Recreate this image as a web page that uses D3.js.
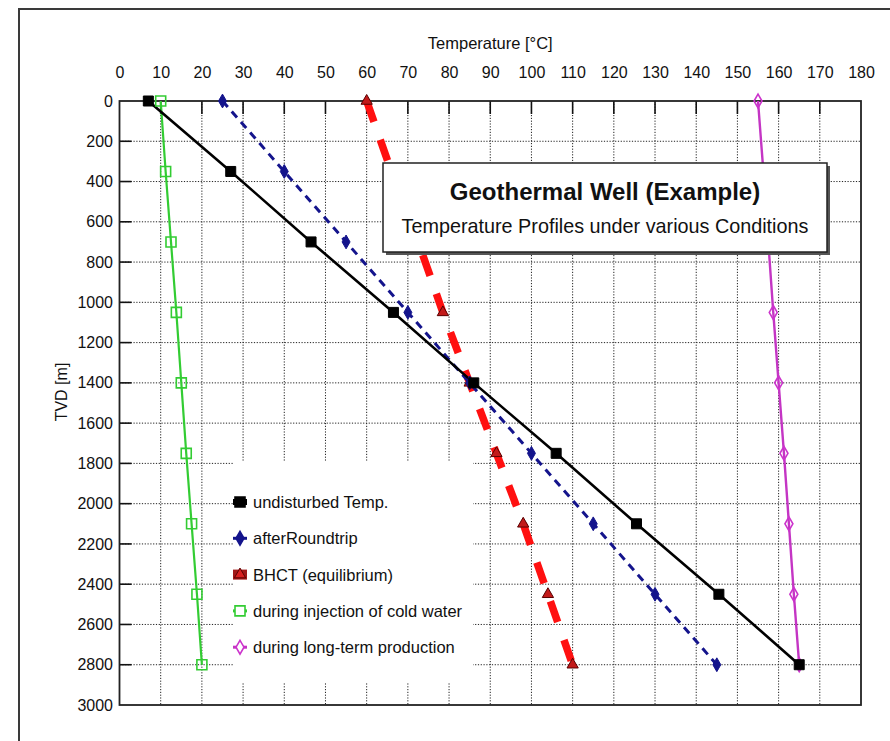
<!DOCTYPE html>
<html>
<head>
<meta charset="utf-8">
<script src="https://cdn.jsdelivr.net/npm/d3@7"></script>
<style>
  html, body { margin: 0; padding: 0; background: #fff; }
  svg { display: block; font-family: "Liberation Sans", Arial, sans-serif; }
</style>
</head>
<body>
<svg id="chart" width="890" height="741"></svg>
<script>
// ---- data ----
const depths = [0, 350, 700, 1050, 1400, 1750, 2100, 2450, 2800];
const undisturbed = [7, 27, 46.5, 66.5, 86, 106, 125.5, 145.5, 165];
const afterRoundtrip = [25, 40, 55, 70, 85, 100, 115, 130, 145];
const bhct = [60, 66, 72.5, 78.5, 85, 91.5, 98, 104, 110];
const injection = [10, 11.2, 12.5, 13.8, 15, 16.2, 17.5, 18.8, 20];
const production = [155, 156.3, 157.5, 158.7, 160, 161.3, 162.5, 163.7, 165];
const xTicks = [0, 10, 20, 30, 40, 50, 60, 70, 80, 90, 100, 110, 120, 130, 140, 150, 160, 170, 180];
const yTicks = [0, 200, 400, 600, 800, 1000, 1200, 1400, 1600, 1800, 2000, 2200, 2400, 2600, 2800, 3000];
const seriesNames = ["undisturbed Temp.", "afterRoundtrip", "BHCT (equilibrium)", "during injection of cold water", "during long-term production"];
const titleText = "Geothermal Well (Example)";
const subtitleText = "Temperature Profiles under various Conditions";
const xTitle = "Temperature [°C]";
const yTitle = "TVD [m]";

// ---- layout ----
const svg = d3.select("#chart");
const L = 119.5, R = 861, T = 101, B = 705;
const x = d3.scaleLinear().domain([0, 180]).range([L, R]);
const y = d3.scaleLinear().domain([0, 3000]).range([T, B]);

// outer frame
svg.append("rect").attr("x", 19).attr("y", 9).attr("width", 900).attr("height", 760)
  .attr("fill", "#fff").attr("stroke", "#3a3a3a").attr("stroke-width", 2);

// grid
const grid = svg.append("g");
xTicks.filter(t => t > 0 && t < 180).forEach(t => {
  grid.append("line").attr("x1", x(t)).attr("x2", x(t)).attr("y1", T).attr("y2", B)
    .attr("stroke", "#222").attr("stroke-width", 1).attr("stroke-dasharray", "1.2,1.6");
  grid.append("line").attr("x1", x(t)).attr("x2", x(t)).attr("y1", T).attr("y2", T + 13)
    .attr("stroke", "#111").attr("stroke-width", 1.6);
});
yTicks.filter(t => t > 0 && t < 3000).forEach(t => {
  grid.append("line").attr("x1", L).attr("x2", R).attr("y1", y(t)).attr("y2", y(t))
    .attr("stroke", "#222").attr("stroke-width", 1).attr("stroke-dasharray", "1.2,1.6");
  grid.append("line").attr("x1", L).attr("x2", L + 12).attr("y1", y(t)).attr("y2", y(t))
    .attr("stroke", "#111").attr("stroke-width", 1.6);
});

// axes (labels via d3 axes)
const xAxis = d3.axisTop(x).tickValues(xTicks).tickFormat(d3.format("d")).tickSize(0).tickPadding(0);
const gx = svg.append("g").attr("transform", `translate(0,${78})`).call(xAxis);
gx.select(".domain").remove();
gx.selectAll("text").attr("font-size", 16).attr("fill", "#111")
  .attr("font-family", "Liberation Sans, Arial, sans-serif").attr("dy", 0);

const yAxis = d3.axisLeft(y).tickValues(yTicks).tickFormat(d3.format("d")).tickSize(0).tickPadding(0);
const gy = svg.append("g").attr("transform", `translate(${113},0)`).call(yAxis);
gy.select(".domain").remove();
gy.selectAll("text").attr("font-size", 16).attr("fill", "#111")
  .attr("font-family", "Liberation Sans, Arial, sans-serif");

// axis titles
svg.append("text").attr("x", (L + R) / 2).attr("y", 49).attr("text-anchor", "middle")
  .attr("font-size", 16.5).attr("fill", "#111").text(xTitle);
svg.append("text").attr("transform", `translate(67,392) rotate(-90)`).attr("text-anchor", "middle")
  .attr("font-size", 16).attr("fill", "#111").text(yTitle);

// legend box (covers gridlines)
const lg = svg.append("g");
lg.append("rect").attr("x", 233).attr("y", 462).attr("width", 240).attr("height", 221).attr("fill", "#fff");

// plot frame
svg.append("rect").attr("x", L).attr("y", T).attr("width", R - L).attr("height", B - T)
  .attr("fill", "none").attr("stroke", "#222").attr("stroke-width", 1.8);

// series
const line = d3.line().x(d => x(d[0])).y(d => y(d[1]));
function pts(vals) { return vals.map((v, i) => [v, depths[i]]); }

const series = [
  { vals: undisturbed, color: "#000", width: 2.6, dash: null, marker: "square", mfill: "#000", mstroke: "#000" },
  { vals: afterRoundtrip, color: "#14148c", width: 3, dash: "8,6", marker: "diamond", mfill: "#14148c", mstroke: "#14148c" },
  { vals: bhct, color: "#ff1010", width: 7.5, dash: "22,19", marker: "triangle", mfill: "#c21a1a", mstroke: "#5a0000" },
  { vals: injection, color: "#33cc33", width: 2.2, dash: null, marker: "square", mfill: "none", mstroke: "#33cc33" },
  { vals: production, color: "#c435c4", width: 2.4, dash: null, marker: "diamond", mfill: "none", mstroke: "#cc33cc" }
];

const symbolFor = {
  square: d3.symbol().type(d3.symbolSquare).size(100),
  diamond: d3.symbol().type(d3.symbolDiamond).size(55),
  triangle: d3.symbol().type(d3.symbolTriangle).size(55)
};

const drawOrder = [4, 3, 2, 1, 0];
drawOrder.forEach(si => {
  const s = series[si];
  const p = svg.append("path").datum(pts(s.vals)).attr("d", line)
    .attr("fill", "none").attr("stroke", s.color).attr("stroke-width", s.width)
    .attr("stroke-linejoin", "round");
  if (s.dash) p.attr("stroke-dasharray", s.dash);
});
drawOrder.forEach(si => {
  const s = series[si];
  svg.append("g").selectAll("path").data(pts(s.vals)).join("path")
    .attr("transform", d => `translate(${x(d[0])},${y(d[1])})`)
    .attr("d", symbolFor[s.marker])
    .attr("fill", s.mfill === "none" ? "none" : s.mfill)
    .attr("stroke", s.mstroke).attr("stroke-width", s.mfill === "none" ? 1.6 : 1);
});

// legend entries
const legY0 = 502, legDy = 36.3;
series.forEach((s, i) => {
  const yy = legY0 + i * legDy;
  const g = lg.append("g");
  if (s.marker === "triangle") {
    g.append("rect").attr("x", 233).attr("y", yy - 5).attr("width", 14).attr("height", 10).attr("fill", "#a01818");
    g.append("path").attr("transform", `translate(240,${yy})`).attr("d", symbolFor.triangle).attr("fill", "#d82020").attr("stroke", "#5a0000");
  } else {
    g.append("line").attr("x1", 233).attr("x2", 247).attr("y1", yy).attr("y2", yy)
      .attr("stroke", s.color).attr("stroke-width", s.marker === "square" && s.mfill !== "none" ? 6 : 3);
    g.append("path").attr("transform", `translate(240,${yy})`).attr("d", symbolFor[s.marker])
      .attr("fill", s.mfill === "none" ? "#fff" : s.mfill).attr("stroke", s.mstroke).attr("stroke-width", 1.6);
  }
  g.append("text").attr("x", 253).attr("y", yy + 6).attr("font-size", 16.5).attr("fill", "#111").text(seriesNames[i]);
});
lg.raise();

// title box with shadow
const tb = svg.append("g");
tb.append("rect").attr("x", 386).attr("y", 166).attr("width", 444).attr("height", 89).attr("fill", "#555");
tb.append("rect").attr("x", 383).attr("y", 163).attr("width", 444).attr("height", 89)
  .attr("fill", "#fff").attr("stroke", "#222").attr("stroke-width", 1.5);
tb.append("text").attr("x", 605).attr("y", 200).attr("text-anchor", "middle")
  .attr("font-size", 24).attr("font-weight", "bold").attr("fill", "#111").text(titleText);
tb.append("text").attr("x", 605).attr("y", 233).attr("text-anchor", "middle")
  .attr("font-size", 19.8).attr("fill", "#111").text(subtitleText);
</script>
</body>
</html>
